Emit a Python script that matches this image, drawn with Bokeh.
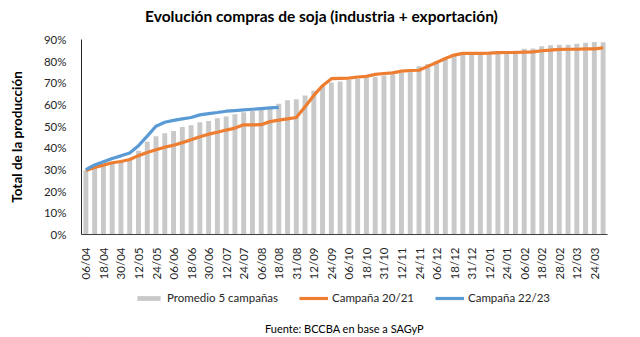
import math
from bokeh.plotting import figure
from bokeh.layouts import column
from bokeh.models import (Range1d, FixedTicker, NumeralTickFormatter, Label,
                          Legend, LegendItem, ColumnDataSource)
from bokeh.embed import file_html
from bokeh.resources import INLINE

tick_labels = ["06/04", "18/04", "30/04", "12/05", "24/05", "06/06", "18/06", "30/06",
               "12/07", "24/07", "06/08", "18/08", "31/08", "12/09", "24/09", "06/10",
               "18/10", "31/10", "12/11", "24/11", "06/12", "18/12", "31/12", "12/01",
               "24/01", "06/02", "18/02", "28/02", "12/03", "24/03"]

promedio = [29.6, 31.0, 32.0, 33.0, 34.0, 34.5, 38.6, 42.8, 45.4, 46.7,
            47.8, 49.6, 50.4, 51.8, 52.4, 53.6, 54.5, 55.5, 56.4, 57.0,
            57.8, 59.0, 60.3, 62.0, 62.4, 64.2, 66.3, 68.5, 70.1, 70.6,
            71.3, 71.9, 72.4, 72.8, 73.4, 73.9, 74.6, 75.0, 77.6, 78.7,
            79.9, 81.3, 82.5, 83.3, 83.3, 83.3, 83.6, 83.9, 84.0, 84.8,
            85.7, 85.8, 86.9, 87.3, 87.6, 87.6, 88.0, 88.5, 88.8, 88.7]

campana_2021 = [29.6, 30.9, 32.0, 33.1, 33.7, 34.6, 36.4, 37.8, 39.1, 40.3,
                41.2, 42.4, 43.7, 45.1, 46.3, 47.2, 48.2, 49.1, 50.6, 50.6,
                50.7, 52.1, 52.8, 53.4, 54.0, 59.0, 64.2, 68.7, 71.9, 72.1,
                72.2, 72.7, 73.0, 73.9, 74.3, 74.6, 75.4, 75.7, 75.8, 77.6,
                79.4, 81.2, 82.8, 83.6, 83.6, 83.6, 83.7, 83.9, 84.0, 84.0,
                84.2, 84.3, 84.8, 85.1, 85.4, 85.5, 85.5, 85.7, 85.7, 86.1]

campana_2223 = [29.9, 32.1, 33.6, 35.1, 36.3, 37.6, 41.0, 45.4, 50.0, 51.8,
                52.7, 53.4, 54.0, 55.2, 55.8, 56.3, 56.9, 57.2, 57.5, 57.8,
                58.1, 58.4, 58.7]

FONT = "Lato"
GRAY = "#c9c9c9"
ORANGE = "#ED7D31"
BLUE = "#5B9BD5"
n = len(promedio)
xs = list(range(n))


def blank_figure(height):
    f = figure(width=640, height=height, output_backend="svg", toolbar_location=None,
               x_range=Range1d(0, 640), y_range=Range1d(0, height),
               x_axis_type=None, y_axis_type=None,
               min_border_left=0, min_border_right=0, min_border_top=0,
               min_border_bottom=0)
    f.outline_line_color = None
    f.xgrid.grid_line_color = None
    f.ygrid.grid_line_color = None
    f.border_fill_color = "white"
    f.background_fill_color = "white"
    return f


# header with title
p0 = blank_figure(30)
p0.add_layout(Label(x=292, y=15, text="Evolución compras de soja (industria + exportación)",
                    text_font=FONT, text_font_style="bold", text_font_size="15.5px",
                    text_align="center", text_baseline="middle", text_color="#000000"))

# main chart
p = figure(width=640, height=252, output_backend="svg", toolbar_location=None,
           x_range=Range1d(-0.5, n - 0.5), y_range=Range1d(0, 0.9),
           min_border_left=81, min_border_right=33, min_border_top=9,
           min_border_bottom=42)
p.outline_line_color = None
p.xgrid.grid_line_color = None
p.ygrid.grid_line_color = None
p.background_fill_color = "white"
p.border_fill_color = "white"

bar_src = ColumnDataSource(dict(x=xs, y=[v / 100 for v in promedio]))
p.vbar(x="x", top="y", width=0.56, source=bar_src, fill_color=GRAY, line_color=None)
p.line(xs, [v / 100 for v in campana_2021], line_color=ORANGE, line_width=3.2,
       line_join="round")
p.line(xs[:len(campana_2223)], [v / 100 for v in campana_2223], line_color=BLUE,
       line_width=3.2, line_join="round")

p.yaxis.ticker = FixedTicker(ticks=[i / 10 for i in range(10)])
p.yaxis.formatter = NumeralTickFormatter(format="0%")
p.yaxis.major_tick_line_color = None
p.yaxis.minor_tick_line_color = None
p.yaxis.axis_line_color = "#262626"
p.yaxis.major_label_text_font = FONT
p.yaxis.major_label_text_font_size = "11.5px"
p.yaxis.major_label_text_color = "#262626"
p.yaxis.major_label_standoff = 9
p.yaxis.axis_label = "Total de la producción"
p.yaxis.axis_label_text_font = FONT
p.yaxis.axis_label_text_font_style = "bold"
p.yaxis.axis_label_text_font_size = "13.5px"
p.yaxis.axis_label_text_color = "#000000"
p.yaxis.axis_label_standoff = 16

tick_pos = list(range(0, n, 2))
p.xaxis.ticker = FixedTicker(ticks=tick_pos)
p.xaxis.major_label_overrides = {t: lab for t, lab in zip(tick_pos, tick_labels)}
p.xaxis.major_label_orientation = math.pi / 2
p.xaxis.major_tick_line_color = None
p.xaxis.minor_tick_line_color = None
p.xaxis.axis_line_color = "#404040"
p.xaxis.major_label_text_font = FONT
p.xaxis.major_label_text_font_size = "11.5px"
p.xaxis.major_label_text_color = "#262626"
p.xaxis.major_label_standoff = 7

# footer with legend and source note
p2 = blank_figure(55)
r_bar = p2.vbar(x=[-100], top=[1], width=1, fill_color=GRAY, line_color=None)
r_or = p2.line(x=[-100, -99], y=[1, 1], line_color=ORANGE, line_width=3.2)
r_bl = p2.line(x=[-100, -99], y=[1, 1], line_color=BLUE, line_width=3.2)

legend = Legend(items=[LegendItem(label="Promedio 5 campañas", renderers=[r_bar]),
                       LegendItem(label="Campaña 20/21", renderers=[r_or]),
                       LegendItem(label="Campaña 22/23", renderers=[r_bl])],
                orientation="horizontal", location=(53, 33),
                label_text_font=FONT, label_text_font_size="11.5px",
                label_text_color="#262626",
                glyph_width=29, glyph_height=6, label_standoff=4, spacing=21,
                padding=0, margin=0, border_line_color=None,
                background_fill_alpha=0)
p2.add_layout(legend, "center")

p2.add_layout(Label(x=320, y=9, text="Fuente: BCCBA en base a SAGyP",
                    text_font=FONT, text_font_size="11px",
                    text_align="center", text_baseline="middle", text_color="#000000"))

layout = column(p0, p, p2, spacing=0)
open("out.html", "w").write(file_html(layout, INLINE))
